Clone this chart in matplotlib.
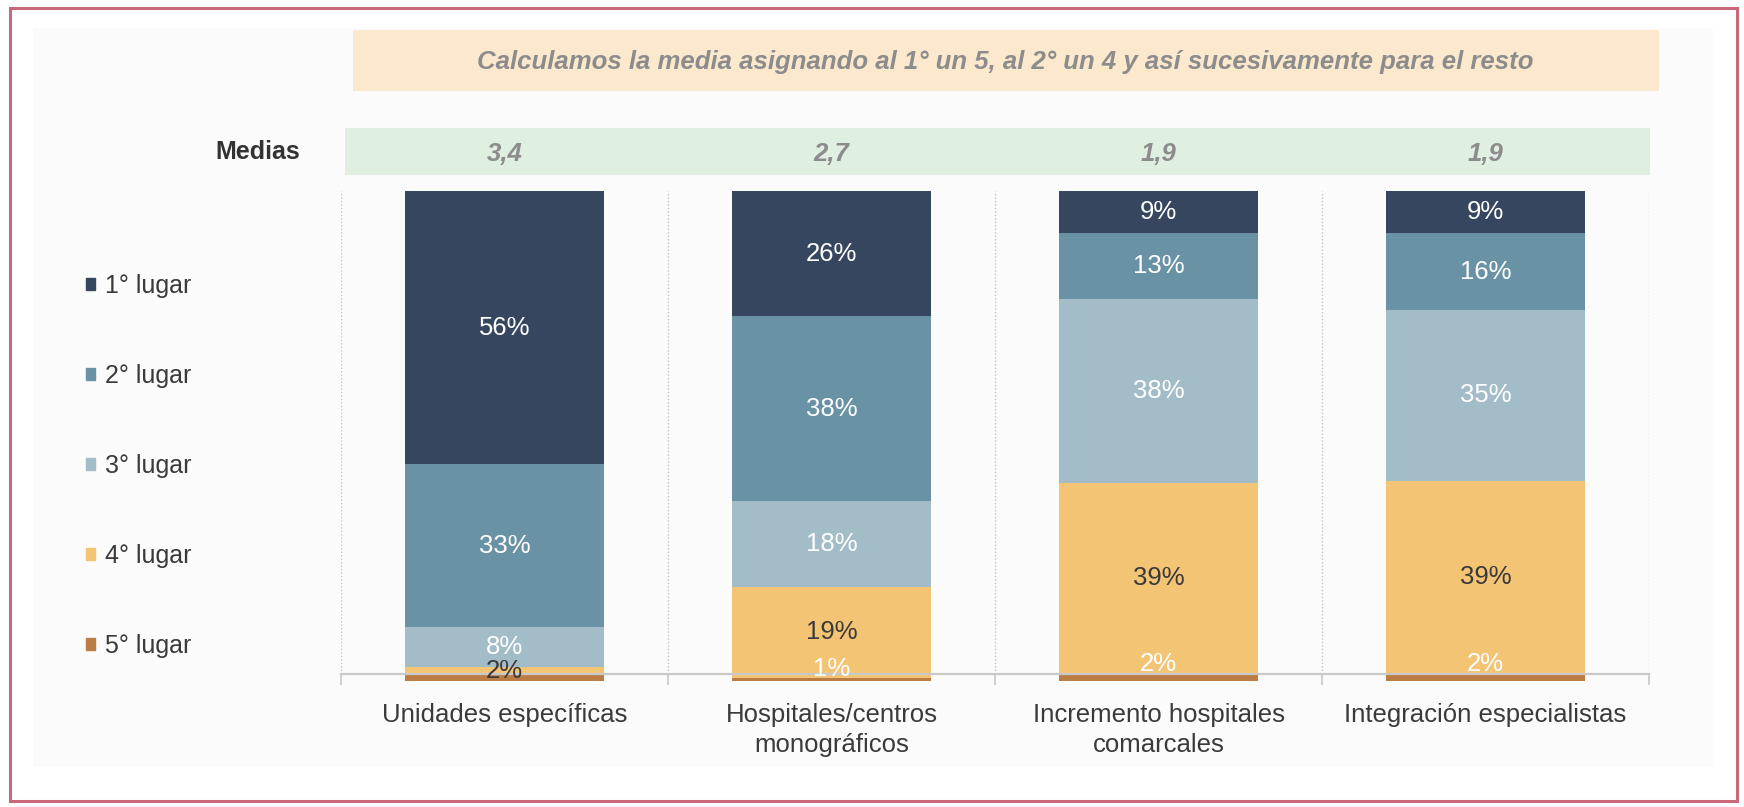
import matplotlib
matplotlib.use("Agg")
import matplotlib.pyplot as plt
import matplotlib.patches as mpatches
from matplotlib.transforms import blended_transform_factory
import numpy as np

plt.rcParams['font.family'] = ['Liberation Sans', 'DejaVu Sans']

categories = ["Unidades específicas", "Hospitales/centros\nmonográficos",
              "Incremento hospitales\ncomarcales", "Integración especialistas"]
series_names = ["1° lugar", "2° lugar", "3° lugar", "4° lugar", "5° lugar"]
lugar1 = [55.8, 25.6, 8.6, 8.6]
lugar2 = [33.2, 37.6, 13.4, 15.7]
lugar3 = [8.2, 17.6, 37.6, 34.8]
lugar4 = [1.6, 18.6, 38.8, 39.3]
lugar5 = [1.2, 0.6, 1.6, 1.6]
show_label5 = [False, True, True, True]
medias = ["3,4", "2,7", "1,9", "1,9"]
banner_text = "Calculamos la media asignando al 1° un 5, al 2° un 4 y así sucesivamente para el resto"

colors = ["#37465f", "#6993a4", "#a3bdc8", "#f4c475", "#bc7d44"]
label_colors = ["white", "white", "white", "#3a3a3a", "white"]

W, H = 1744, 807
fig = plt.figure(figsize=(W / 100, H / 100), dpi=100)
fig.patch.set_facecolor("white")

def frect(x0, y0, x1, y1, **kw):
    # pixel box (top-left origin) -> figure coords
    r = mpatches.Rectangle((x0 / W, 1 - y1 / H), (x1 - x0) / W, (y1 - y0) / H,
                           transform=fig.transFigure, **kw)
    fig.patches.append(r)
    return r

# outer border and inner panel
frect(10, 8, 1737, 801, facecolor="white", edgecolor="#c9687a", linewidth=2.2, zorder=-3)
frect(33, 28, 1713, 767, facecolor="#fbfbfb", edgecolor="none", zorder=-2)
# banners
frect(353, 30, 1659, 91, facecolor="#fce9cd", edgecolor="none", zorder=-1)
frect(345, 128, 1650, 175, facecolor="#dfefe0", edgecolor="none", zorder=-1)

fig.text(1005 / W, 1 - 62 / H, banner_text, ha="center", va="center",
         fontsize=18.5, fontweight="bold", fontstyle="italic", color="#8c8c8c")
fig.text(300 / W, 1 - 152 / H, "Medias", ha="right", va="center",
         fontsize=18, fontweight="bold", color="#333333")

ax = fig.add_axes([341 / W, 1 - 681 / H, 1308 / W, 490 / H])
ax.set_zorder(2)
ax.set_facecolor("none")
x = np.arange(len(categories))
series = [lugar1, lugar2, lugar3, lugar4, lugar5]

stack_order = [4, 3, 2, 1, 0]
bottom = np.zeros(len(categories))
for si in stack_order:
    vals = np.array(series[si])
    ax.bar(x, vals, bottom=bottom, width=0.61, color=colors[si], zorder=1,
           label=series_names[si], edgecolor="none")
    for j in range(len(categories)):
        lab = f"{int(round(vals[j]))}%"
        if si == 4:
            if show_label5[j]:
                ax.annotate(lab, (x[j], bottom[j] + vals[j]), xytext=(0, 6.5),
                            textcoords="offset points", ha="center", va="center",
                            fontsize=18.5, color=label_colors[si], zorder=5)
        else:
            ax.text(x[j], bottom[j] + vals[j] / 2, lab, ha="center", va="center",
                    fontsize=18.5, color=label_colors[si], zorder=5)
    bottom = bottom + vals

ax.set_xlim(-0.5, len(categories) - 0.5)
ax.set_ylim(0, 100)
ax.set_yticks([])
for s in ["top", "right", "left"]:
    ax.spines[s].set_visible(False)
ax.spines["bottom"].set_position(("data", 1.4))
ax.spines["bottom"].set_color("#c8c8c8")
ax.spines["bottom"].set_linewidth(1.6)
ax.spines["bottom"].set_zorder(3)

for xs in np.arange(-0.5, len(categories), 1.0):
    ax.plot([xs, xs], [1.4, 100], linestyle=(0, (1, 1.5)), color="#c4c4c4",
            linewidth=1.0, zorder=0.5)

ax.set_xticks(x)
ax.set_xticklabels(categories, fontsize=18.5, color="#3a3a3a", linespacing=1.3)
ax.tick_params(axis="x", which="major", length=0, pad=21)
ax.set_xticks(np.arange(-0.5, len(categories), 1.0), minor=True)
ax.tick_params(axis="x", which="minor", length=8, width=1.2, color="#c8c8c8")

trans = blended_transform_factory(ax.transData, fig.transFigure)
for j, m in enumerate(medias):
    ax.text(x[j], 1 - 154 / H, m, transform=trans, ha="center", va="center",
            fontsize=18.5, fontweight="bold", fontstyle="italic", color="#8c8c8c")

handles = [mpatches.Patch(color=colors[i]) for i in range(5)]
fig.legend(handles, series_names, loc="upper left",
           bbox_to_anchor=(86 / W, 1 - 274 / H), frameon=False, fontsize=18,
           handlelength=0.36, handleheight=0.4, handletextpad=0.4,
           labelspacing=2.64, labelcolor="#3a3a3a", borderaxespad=0, borderpad=0)

fig.savefig("out.png", dpi=100)
